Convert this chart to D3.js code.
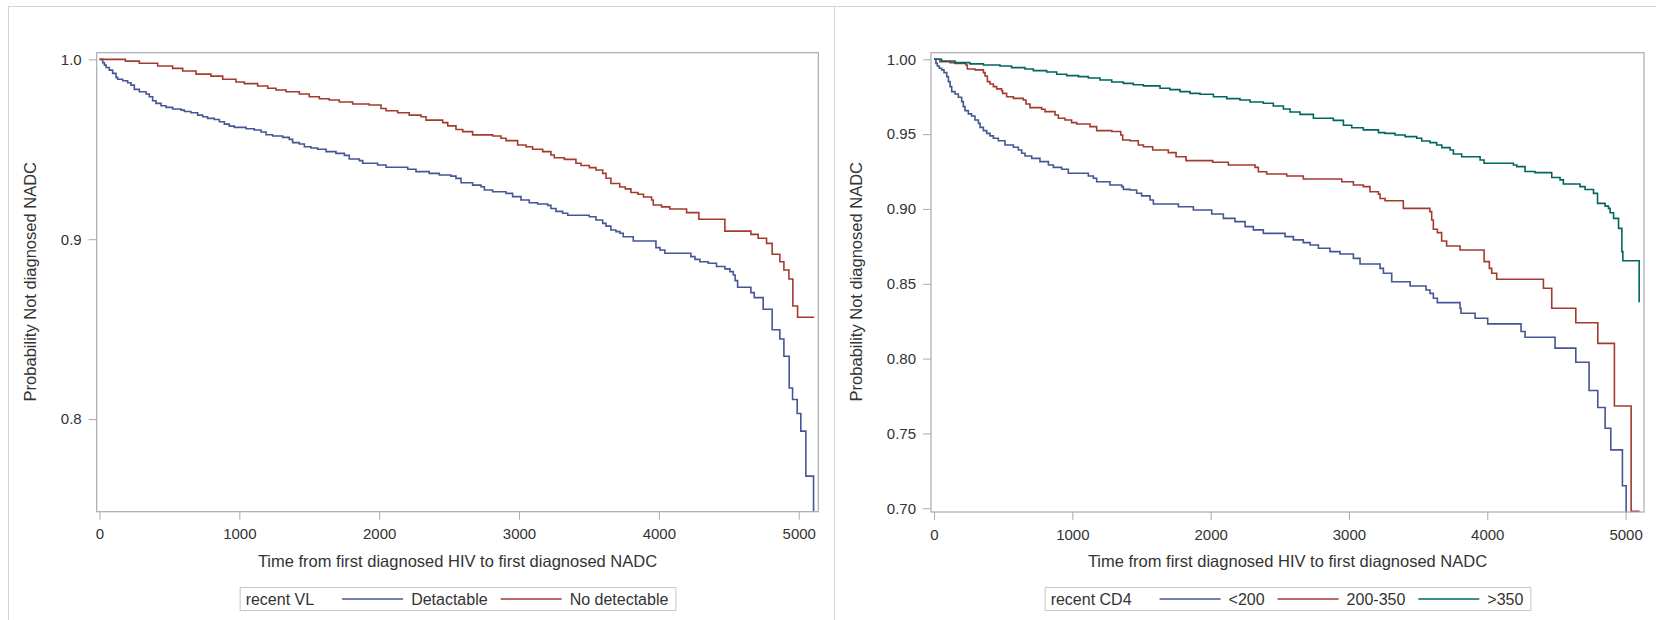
<!DOCTYPE html>
<html>
<head>
<meta charset="utf-8">
<script src="https://cdn.jsdelivr.net/npm/d3@7"></script>
<style>
  html, body { margin: 0; padding: 0; background: #fff; }
  svg { display: block; }
  text { font-family: "Liberation Sans", Arial, sans-serif; fill: #333; }
</style>
</head>
<body>
<svg id="chart" width="1656" height="620"></svg>
<script>
// ---------------- DATA ----------------
const xTicks = [0, 1000, 2000, 3000, 4000, 5000];
const yTicksVL = [0.8, 0.9, 1.0];
const yTicksCD4 = [0.70, 0.75, 0.80, 0.85, 0.90, 0.95, 1.00];

const vlLegendTitle = "recent VL";
const vlCategories = ["Detactable", "No detectable"];
const cd4LegendTitle = "recent CD4";
const cd4Categories = ["<200", "200-350", ">350"];

const xAxisLabel = "Time from first diagnosed HIV to first diagnosed NADC";
const yAxisLabel = "Probability Not diagnosed NADC";

// Left panel: recent VL = Detactable (time, survival)
const vlDetTime = [0,23,35,47,70,94,118,130,166,201,225,249,285,333,356,380,404,440,476,523,583,607,654,702,738,773,821,857,893,928,964,1048,1107,1155,1191,1238,1310,1357,1381,1429,1465,1512,1560,1620,1691,1751,1786,1858,1882,1989,2049,2204,2263,2358,2430,2513,2549,2585,2668,2728,2752,2811,2907,2954,3014,3073,3133,3205,3228,3264,3312,3348,3502,3550,3598,3622,3657,3693,3722,3745,3817,3979,4008,4043,4229,4258,4293,4353,4412,4472,4508,4532,4545,4563,4658,4682,4746,4810,4865,4894,4932,4956,4989,5015,5051,5106];
const vlDetSurv = [1.0,0.9981,0.9968,0.9955,0.994,0.9922,0.99,0.9889,0.9881,0.987,0.9857,0.9833,0.982,0.9807,0.9792,0.977,0.9755,0.9742,0.9733,0.9724,0.9718,0.971,0.9703,0.969,0.9681,0.9672,0.9666,0.9653,0.964,0.9629,0.9622,0.9614,0.9607,0.9596,0.9581,0.9574,0.9566,0.9555,0.9537,0.9529,0.9514,0.9507,0.95,0.9487,0.9477,0.9466,0.9446,0.9437,0.9422,0.9413,0.94,0.9389,0.9376,0.9366,0.9357,0.9351,0.9338,0.9314,0.9301,0.9292,0.9274,0.9264,0.9255,0.9237,0.9218,0.9203,0.9196,0.9188,0.9171,0.9155,0.9144,0.9133,0.9125,0.9107,0.9088,0.9073,0.9051,0.9042,0.9033,0.9014,0.899,0.8953,0.894,0.8922,0.8903,0.8888,0.8875,0.8866,0.8848,0.8835,0.882,0.8801,0.877,0.8733,0.8703,0.8675,0.8611,0.8497,0.8445,0.8349,0.8173,0.8109,0.8031,0.7933,0.7683,0.74];

// Left panel: recent VL = No detectable
const vlNoDetTime = [0,185,285,416,523,595,690,797,881,976,1036,1131,1203,1262,1334,1429,1500,1572,1643,1715,1810,1929,2013,2049,2132,2215,2299,2335,2454,2490,2549,2597,2668,2811,2871,2907,2990,3050,3097,3169,3228,3252,3324,3407,3443,3503,3550,3598,3622,3657,3720,3760,3800,3850,3890,3948,3960,4019,4078,4198,4286,4472,4658,4710,4770,4810,4865,4894,4930,4958,4992,5111];
const vlNoDetSurv = [1.0,0.999,0.9978,0.9963,0.995,0.9935,0.9918,0.9907,0.9889,0.9874,0.9865,0.9852,0.9839,0.983,0.982,0.9807,0.9792,0.9781,0.9774,0.9763,0.9752,0.9746,0.9727,0.9714,0.9703,0.969,0.9681,0.9662,0.9648,0.963,0.961,0.9598,0.958,0.9574,0.9561,0.9548,0.9524,0.9514,0.95,0.9487,0.9468,0.9453,0.9444,0.9422,0.941,0.9398,0.9385,0.9366,0.9339,0.931,0.929,0.928,0.926,0.925,0.9235,0.9218,0.919,0.918,0.9168,0.9148,0.9111,0.9045,0.9027,0.9005,0.8977,0.8916,0.8875,0.8829,0.8779,0.8629,0.8566,0.8566];

// Right panel: recent CD4 = <200
const cd4LowTime = [0,14,24,38,55,72,92,104,116,128,152,176,200,212,224,248,272,296,321,333,357,381,405,429,465,513,574,610,634,658,706,766,827,863,923,971,1116,1152,1176,1272,1357,1369,1417,1465,1501,1562,1586,1767,1875,2008,2092,2176,2249,2309,2381,2538,2598,2670,2719,2779,2863,2935,3032,3080,3225,3249,3309,3442,3557,3586,3610,3639,3803,3810,3912,4003,4244,4273,4490,4640,4736,4799,4852,4893,4977,5004];
const cd4LowSurv = [1.0,0.9973,0.9955,0.994,0.9929,0.9911,0.9884,0.9851,0.9817,0.9784,0.9768,0.9746,0.9717,0.9684,0.9657,0.9635,0.9621,0.9594,0.9572,0.9545,0.9523,0.9505,0.9488,0.9472,0.9456,0.9427,0.9412,0.9394,0.9372,0.9354,0.9338,0.9316,0.9294,0.9278,0.9265,0.9238,0.922,0.9205,0.9182,0.916,0.9149,0.9131,0.9127,0.9105,0.9087,0.906,0.9033,0.9015,0.8993,0.8966,0.8937,0.8915,0.8882,0.886,0.8837,0.8815,0.8793,0.8775,0.8759,0.8737,0.8715,0.8699,0.867,0.8632,0.8603,0.857,0.8514,0.8485,0.8458,0.8436,0.8403,0.8374,0.8336,0.8303,0.827,0.8232,0.8181,0.8143,0.807,0.7976,0.7787,0.7673,0.7535,0.739,0.715,0.69];

// Right panel: recent CD4 = 200-350
const cd4MidTime = [0,43,116,152,231,241,296,357,369,386,405,429,453,489,496,525,574,646,665,694,778,803,875,899,947,995,1032,1128,1176,1285,1350,1364,1417,1477,1514,1581,1694,1750,1822,2015,2128,2321,2345,2405,2550,2670,2948,3032,3104,3152,3213,3225,3261,3393,3585,3598,3610,3639,3670,3706,3803,3977,4015,4032,4068,4406,4466,4640,4799,4919,5040,5101];
const cd4MidSurv = [1.0,0.9984,0.9978,0.9973,0.9962,0.9935,0.9929,0.9911,0.9888,0.9851,0.9835,0.9817,0.9802,0.979,0.9772,0.975,0.9739,0.9728,0.9701,0.9677,0.9666,0.965,0.9628,0.9606,0.9594,0.9577,0.9568,0.955,0.9523,0.9517,0.9494,0.9461,0.9456,0.9427,0.9416,0.9394,0.9376,0.9349,0.9323,0.9312,0.9294,0.9278,0.9249,0.9233,0.922,0.92,0.9182,0.916,0.9149,0.9115,0.9099,0.907,0.9055,0.9004,0.8982,0.8926,0.8864,0.8842,0.8786,0.8752,0.8726,0.8648,0.8603,0.857,0.853,0.847,0.8336,0.824,0.8102,0.7683,0.698,0.698];

// Right panel: recent CD4 = >350
const cd4HighTime = [0,55,152,260,357,477,561,658,718,815,887,959,1044,1116,1200,1285,1369,1441,1514,1634,1706,1779,1851,1923,2020,2116,2212,2285,2381,2453,2526,2574,2646,2743,2887,2960,3020,3104,3213,3261,3333,3406,3490,3526,3586,3634,3671,3731,3755,3815,3948,3977,4189,4213,4273,4345,4466,4526,4550,4670,4707,4768,4797,4852,4876,4888,4913,4949,4973,4980,5098];
const cd4HighSurv = [1.0,0.9989,0.9978,0.9969,0.9962,0.9955,0.9944,0.9935,0.9924,0.9915,0.99,0.9891,0.9884,0.9875,0.9862,0.9848,0.9839,0.983,0.9822,0.9806,0.9797,0.9784,0.9772,0.9766,0.975,0.9737,0.9728,0.9715,0.9706,0.9688,0.9668,0.9648,0.9632,0.9606,0.9592,0.9559,0.9543,0.9528,0.951,0.9505,0.9494,0.9483,0.9472,0.9454,0.9443,0.9427,0.941,0.9394,0.9367,0.9349,0.9327,0.9305,0.9294,0.9283,0.925,0.9243,0.921,0.9194,0.9167,0.9149,0.913,0.9104,0.9037,0.9019,0.9004,0.8975,0.8937,0.887,0.8715,0.8654,0.8376];

// ---------------- DRAWING ----------------
const COLORS = ["#445694", "#A23A2E", "#01665E"];
const svg = d3.select("#chart");

// outer frames
const frame = svg.append("g").attr("stroke", "#d4d4d4").attr("stroke-width", 1).attr("fill", "none");
frame.append("line").attr("x1", 8).attr("x2", 1656).attr("y1", 6.5).attr("y2", 6.5);
frame.append("line").attr("x1", 8.5).attr("x2", 8.5).attr("y1", 6).attr("y2", 620);
frame.append("line").attr("x1", 834.5).attr("x2", 834.5).attr("y1", 6).attr("y2", 620);

function zip(t, s) { return t.map((d, i) => ({ t: d, s: s[i] })); }

function panel(cfg) {
  const g = svg.append("g");
  const x = d3.scaleLinear().domain(cfg.xDomain).range([cfg.x0, cfg.x1]);
  const y = d3.scaleLinear().domain(cfg.yDomain).range([cfg.y1, cfg.y0]);

  const clipId = "clip" + cfg.id;
  svg.append("defs").append("clipPath").attr("id", clipId)
    .append("rect").attr("x", cfg.x0).attr("y", cfg.y0)
    .attr("width", cfg.x1 - cfg.x0).attr("height", cfg.y1 - cfg.y0);

  // curves
  const line = d3.line().x(d => x(d.t)).y(d => y(d.s)).curve(d3.curveStepAfter);
  const curves = g.append("g").attr("clip-path", `url(#${clipId})`);
  cfg.series.forEach((s, i) => {
    curves.append("path").datum(zip(s.time, s.surv))
      .attr("fill", "none").attr("stroke", COLORS[i])
      .attr("stroke-width", 1.6).attr("stroke-linejoin", "miter")
      .attr("d", line);
  });

  // frame
  g.append("rect").attr("x", cfg.x0).attr("y", cfg.y0)
    .attr("width", cfg.x1 - cfg.x0).attr("height", cfg.y1 - cfg.y0)
    .attr("fill", "none").attr("stroke", "#a9abae").attr("stroke-width", 1.2);

  // x axis
  const xa = g.append("g").attr("transform", `translate(0,${cfg.y1})`)
    .call(d3.axisBottom(x).tickValues(xTicks).tickSize(8).tickPadding(9).tickFormat(d3.format("d")));
  xa.select(".domain").remove();
  xa.selectAll(".tick line").attr("stroke", "#a9abae");
  xa.selectAll("text").attr("font-size", 15).attr("fill", "#333").style("font-family", '"Liberation Sans", Arial, sans-serif');

  // y axis
  const ya = g.append("g").attr("transform", `translate(${cfg.x0},0)`)
    .call(d3.axisLeft(y).tickValues(cfg.yTicks).tickSize(8).tickPadding(7).tickFormat(d3.format(cfg.yFormat)));
  ya.select(".domain").remove();
  ya.selectAll(".tick line").attr("stroke", "#a9abae");
  ya.selectAll("text").attr("font-size", 15).attr("fill", "#333").style("font-family", '"Liberation Sans", Arial, sans-serif');

  // axis labels
  const cx = (cfg.x0 + cfg.x1) / 2;
  g.append("text").attr("x", cx).attr("y", 566.5).attr("text-anchor", "middle")
    .attr("font-size", 16.5).text(xAxisLabel);
  g.append("text").attr("transform", `translate(${cfg.yLabelX},281.7) rotate(-90)`)
    .attr("text-anchor", "middle").attr("font-size", 16.5).text(yAxisLabel);

  // legend
  const lg = g.append("g");
  const box = lg.append("rect").attr("fill", "none").attr("stroke", "#c8c8c8").attr("stroke-width", 1);
  const fs = 16, base = 604.6, midY = 599;
  let cur = 0;
  const title = lg.append("text").attr("x", cur).attr("y", base).attr("font-size", fs).text(cfg.legendTitle);
  cur += title.node().getComputedTextLength() + 28;
  cfg.series.forEach((s, i) => {
    lg.append("line").attr("x1", cur).attr("x2", cur + 61).attr("y1", midY).attr("y2", midY)
      .attr("stroke", COLORS[i]).attr("stroke-width", 1.6);
    cur += 61 + 8;
    const t = lg.append("text").attr("x", cur).attr("y", base).attr("font-size", fs).text(s.name);
    cur += t.node().getComputedTextLength() + (i < cfg.series.length - 1 ? 13 : 0);
  });
  const padL = 6, padR = 7;
  const w = cur + padL + padR;
  const left = cx - w / 2;
  lg.attr("transform", `translate(${left + padL},0)`);
  box.attr("x", -padL + 0.5).attr("y", 587.5).attr("width", w).attr("height", 23);
}

panel({
  id: "vl", x0: 96.7, x1: 818.3, y0: 52.7, y1: 511.7,
  xDomain: [-20, 5140], yDomain: [0.7485, 1.0037],
  yTicks: yTicksVL, yFormat: ".1f", yLabelX: 35.5,
  legendTitle: vlLegendTitle,
  series: [
    { name: vlCategories[0], time: vlDetTime, surv: vlDetSurv },
    { name: vlCategories[1], time: vlNoDetTime, surv: vlNoDetSurv }
  ]
});

panel({
  id: "cd4", x0: 931, x1: 1644, y0: 52.7, y1: 512,
  xDomain: [-21.7, 5133], yDomain: [0.6975, 1.0044],
  yTicks: yTicksCD4, yFormat: ".2f", yLabelX: 861.6,
  legendTitle: cd4LegendTitle,
  series: [
    { name: cd4Categories[0], time: cd4LowTime, surv: cd4LowSurv },
    { name: cd4Categories[1], time: cd4MidTime, surv: cd4MidSurv },
    { name: cd4Categories[2], time: cd4HighTime, surv: cd4HighSurv }
  ]
});
</script>
</body>
</html>
